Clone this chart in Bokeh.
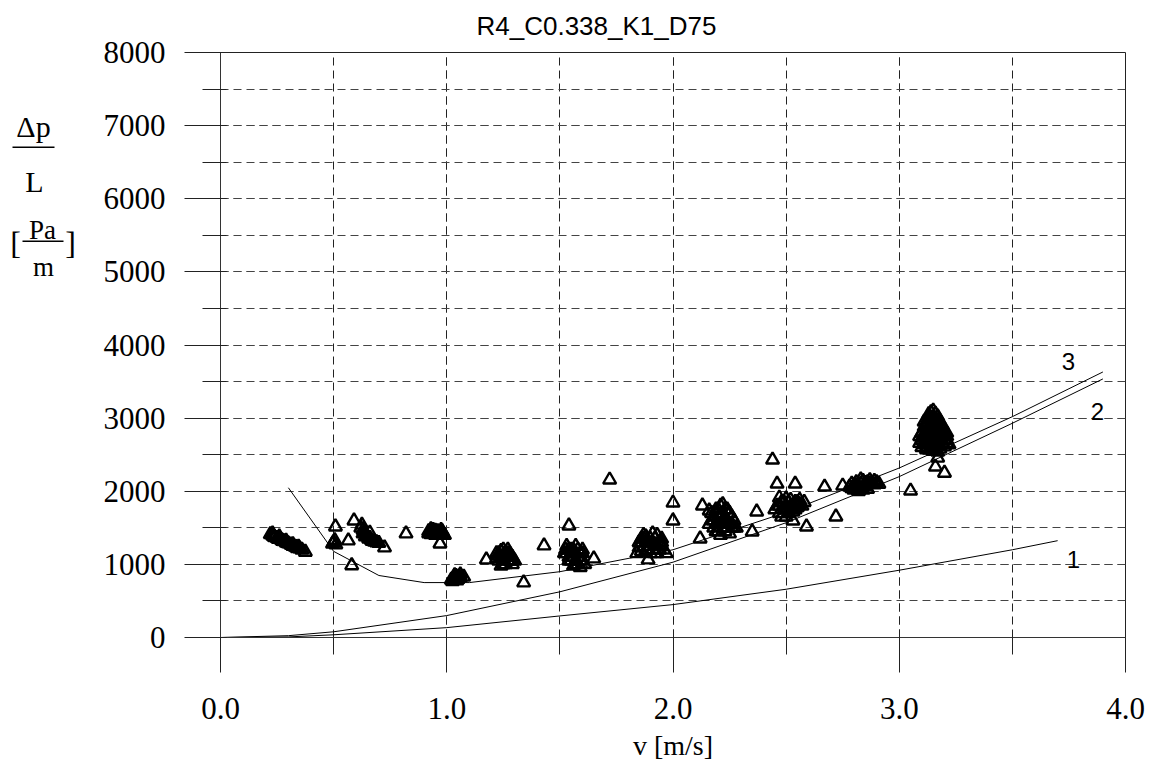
from bokeh.plotting import figure
from bokeh.layouts import row
from bokeh.models import SingleIntervalTicker, PrintfTickFormatter, Range1d, Label
from bokeh.core.properties import value
from bokeh.embed import file_html
from bokeh.resources import INLINE

title_text = "R4_C0.338_K1_D75"
x_label = "v [m/s]"

# measured points (v [m/s], dp/L [Pa/m]) - rows match between the two lists
v_meas = [
    0.22, 0.23, 0.235, 0.24, 0.25, 0.255, 0.26, 0.27, 0.275, 0.28, 0.29, 0.295, 0.30, 0.31, 0.315, 0.32,
    0.33, 0.335, 0.34, 0.35, 0.36, 0.375, 0.23, 0.26, 0.29, 0.32, 0.345,
    0.508, 0.50, 0.505, 0.495, 0.51, 0.565, 0.59, 0.58,
    0.62, 0.63, 0.635, 0.64, 0.645, 0.65, 0.66, 0.665, 0.67, 0.68, 0.69, 0.70, 0.63, 0.64, 0.655, 0.66, 0.725, 0.625,
    0.82,
    0.92, 0.93, 0.94, 0.95, 0.96, 0.97, 0.98, 0.93, 0.95, 0.965, 0.99, 0.94, 0.975, 0.97,
    0.92, 0.94, 0.96, 0.98, 0.95, 0.93, 0.97,
    1.02, 1.03, 1.035, 1.04, 1.05, 1.06, 1.045, 1.025, 1.075, 1.03, 1.05, 1.04, 1.06,
    1.175,
    1.22, 1.23, 1.24, 1.25, 1.26, 1.27, 1.28, 1.29, 1.25, 1.23, 1.27, 1.28, 1.26, 1.24, 1.29, 1.22, 1.30,
    1.23, 1.25, 1.27, 1.24, 1.26, 1.28, 1.25, 1.27, 1.29,
    1.34, 1.43,
    1.53, 1.54, 1.55, 1.56, 1.57, 1.58, 1.59, 1.60, 1.57, 1.55, 1.56, 1.58, 1.60, 1.54, 1.52, 1.61, 1.59, 1.54, 1.65, 1.525,
    1.53, 1.55, 1.57, 1.59, 1.56, 1.58, 1.54, 1.60, 1.57, 1.55,
    1.72,
    1.85, 1.86, 1.87, 1.88, 1.89, 1.90, 1.91, 1.92, 1.93, 1.94, 1.95, 1.96, 1.88, 1.90, 1.93, 1.87, 1.86, 1.89, 1.84, 1.91, 1.95, 1.97,
    1.86, 1.88, 1.90, 1.92, 1.94, 1.89, 1.91, 1.93, 1.87, 1.95, 1.92, 1.85,
    2.00, 2.00, 2.12, 2.13, 2.16,
    2.17, 2.18, 2.19, 2.20, 2.21, 2.22, 2.23, 2.24, 2.25, 2.26, 2.20, 2.22, 2.18, 2.24, 2.26, 2.27, 2.19, 2.21, 2.23, 2.25, 2.28, 2.16, 2.20, 2.22,
    2.17, 2.19, 2.21, 2.23, 2.25, 2.27, 2.20, 2.22, 2.24, 2.18, 2.26, 2.23, 2.21, 2.19,
    2.35, 2.37, 2.44, 2.46, 2.54, 2.47,
    2.46, 2.48, 2.50, 2.52, 2.54, 2.56, 2.58, 2.49, 2.51, 2.53, 2.55, 2.47, 2.50, 2.52, 2.57, 2.45,
    2.47, 2.49, 2.51, 2.53, 2.55, 2.50, 2.52, 2.54, 2.56, 2.48,
    2.53, 2.59, 2.67, 2.72, 2.75,
    2.78, 2.79, 2.80, 2.81, 2.82, 2.83, 2.84, 2.85, 2.86, 2.87, 2.88, 2.89, 2.90, 2.91, 2.84, 2.82, 2.86, 2.80,
    2.79, 2.81, 2.83, 2.85, 2.87, 2.89, 2.81, 2.83,
    3.14, 3.16, 3.13, 3.15, 3.17, 3.12, 3.14, 3.16, 3.18, 3.11, 3.13, 3.15, 3.17, 3.19, 3.10, 3.12, 3.14, 3.16,
    3.18, 3.20, 3.10, 3.12, 3.14, 3.16, 3.18, 3.20, 3.09, 3.11, 3.13, 3.15, 3.17, 3.19, 3.21, 3.10, 3.12, 3.14,
    3.16, 3.18, 3.20, 3.22, 3.15, 3.17,
    3.11, 3.13, 3.15, 3.17, 3.19, 3.21, 3.09, 3.11, 3.13, 3.15, 3.17, 3.19, 3.21, 3.10, 3.12, 3.14, 3.16, 3.18,
    3.20, 3.11, 3.13, 3.15, 3.17, 3.19, 3.21, 3.12, 3.14, 3.16, 3.18, 3.13, 3.15, 3.17, 3.14, 3.16, 3.12, 3.18,
    3.16, 3.20, 3.17, 3.05,
]
dp_meas = [
    1410, 1395, 1380, 1370, 1360, 1345, 1350, 1330, 1320, 1315, 1300, 1290, 1285, 1270, 1265, 1250,
    1240, 1235, 1220, 1215, 1200, 1170, 1420, 1380, 1320, 1275, 1240,
    1515, 1300, 1330, 1280, 1270, 1325, 1597, 985,
    1500, 1470, 1440, 1420, 1400, 1380, 1360, 1340, 1320, 1310, 1300, 1290, 1420, 1380, 1350, 1430, 1229, 1540,
    1420,
    1420, 1450, 1470, 1460, 1450, 1440, 1420, 1410, 1400, 1410, 1400, 1430, 1470, 1283,
    1450, 1450, 1420, 1450, 1430, 1480, 1400,
    790, 820, 850, 800, 830, 860, 780, 770, 830, 800, 800, 840, 820,
    1065,
    1150, 1120, 1180, 1200, 1150, 1100, 1050, 1000, 1060, 1050, 1200, 1140, 1000, 980, 1100, 1080, 1050,
    1150, 1120, 1050, 1100, 1100, 1100, 1000, 1150, 1050,
    751, 1256,
    1250, 1200, 1150, 1100, 1050, 1000, 1150, 1200, 1250, 1050, 980, 1100, 1050, 1100, 1150, 1000, 960, 1529, 1078, 1200,
    1150, 1200, 1150, 1050, 1200, 1200, 1050, 1150, 1000, 1100,
    2157,
    1300, 1350, 1400, 1380, 1300, 1250, 1200, 1350, 1400, 1300, 1250, 1200, 1200, 1150, 1150, 1250, 1180, 1065, 1150, 1420, 1350, 1150,
    1300, 1300, 1350, 1250, 1200, 1200, 1300, 1250, 1350, 1300, 1150, 1230,
    1843, 1597, 1351, 1802, 1734,
    1600, 1650, 1700, 1750, 1800, 1700, 1650, 1600, 1550, 1500, 1550, 1500, 1500, 1750, 1650, 1600, 1450, 1400, 1450, 1420, 1500, 1550, 1650, 1820,
    1700, 1750, 1650, 1750, 1700, 1500, 1450, 1600, 1500, 1600, 1550, 1550, 1550, 1550,
    1447, 1720, 2430, 2102, 2102, 1911,
    1800, 1850, 1900, 1880, 1850, 1880, 1850, 1750, 1700, 1720, 1780, 1700, 1650, 1800, 1800, 1750,
    1800, 1850, 1850, 1800, 1850, 1750, 1750, 1750, 1820, 1650,
    1597, 1515, 2061, 1652, 2075,
    2060, 2100, 2080, 2120, 2050, 2100, 2140, 2070, 2120, 2150, 2100, 2140, 2120, 2100, 2020, 2000, 2030, 2020,
    2040, 2070, 2040, 2110, 2100, 2090, 2030, 2160,
    3080, 3060, 3000, 3000, 3020, 2950, 2930, 2950, 2960, 2880, 2870, 2880, 2890, 2900, 2800, 2800, 2810, 2820,
    2830, 2840, 2730, 2740, 2750, 2760, 2760, 2770, 2660, 2670, 2680, 2690, 2700, 2690, 2700, 2600, 2600, 2620,
    2610, 2620, 2610, 2640, 2550, 2540,
    2950, 3050, 3100, 2960, 2850, 2800, 2750, 2780, 2780, 2790, 2800, 2780, 2750, 2700, 2700, 2710, 2720, 2720,
    2700, 2640, 2640, 2650, 2650, 2650, 2660, 2570, 2580, 2570, 2580, 2850, 2840, 2850, 2980, 2990, 2900, 2920,
    2335, 2250, 2457, 2007,
]

# model curves
v_c1 = [0.0, 0.3, 0.5, 1.0, 1.5, 2.0, 2.5, 3.0, 3.5, 3.7]
dp_c1 = [0, 8, 37, 135, 295, 450, 660, 920, 1200, 1324]
v_c2 = [0.0, 0.3, 0.5, 1.0, 1.5, 2.0, 2.5, 3.0, 3.5, 3.9]
dp_c2 = [0, 25, 78, 300, 625, 1030, 1570, 2200, 2930, 3536]
v_c3 = [0.3, 0.5, 0.7, 0.9, 1.1, 1.5, 2.0, 2.5, 3.0, 3.5, 3.9]
dp_c3 = [2048, 1178, 848, 751, 751, 900, 1200, 1711, 2318, 3020, 3631]
curve_names = ["1", "2", "3"]
curve_label_v = [3.77, 3.876, 3.748]
curve_label_dp = [1065, 3085, 3768]

SERIF = "Liberation Serif"
SANS = "Liberation Sans"
H = 763
LW = 80  # width of the y-label strip
FRAME_TOP, FRAME_BOTTOM = 52, 638

# ---------------- main chart ----------------
p = figure(width=1151 - LW, height=H, output_backend="svg", toolbar_location=None,
           x_range=Range1d(0, 4), y_range=Range1d(0, 8000),
           min_border_left=220 - LW, min_border_right=26, min_border_top=FRAME_TOP,
           min_border_bottom=H - FRAME_BOTTOM)
p.background_fill_color = "white"
p.border_fill_color = "white"
p.outline_line_color = "#222222"
p.outline_line_width = 1

p.title.text = title_text
p.title.text_font = SANS
p.title.text_font_size = "26px"
p.title.text_font_style = "normal"
p.title.text_color = "black"
p.title.align = "left"
p.title.offset = 256
p.title.vertical_align = "top"
p.title.standoff = 20

p.xaxis.ticker = SingleIntervalTicker(interval=1, num_minor_ticks=2)
p.yaxis.ticker = SingleIntervalTicker(interval=1000, num_minor_ticks=2)
p.xaxis.formatter = PrintfTickFormatter(format="%.1f")
for ax in (p.xaxis, p.yaxis):
    ax.major_label_text_font = SERIF
    ax.major_label_text_font_size = "31px"
    ax.major_label_text_color = "black"
    ax.major_tick_line_color = "#222222"
    ax.minor_tick_line_color = "#222222"
    ax.axis_line_color = "#333333"
p.xaxis.major_tick_out = 35
p.xaxis.major_tick_in = 0
p.xaxis.minor_tick_out = 17
p.xaxis.minor_tick_in = 0
p.xaxis.major_label_standoff = 25
p.xaxis.axis_label = x_label
p.xaxis.axis_label_text_font = SERIF
p.xaxis.axis_label_text_font_size = "28px"
p.xaxis.axis_label_text_font_style = "normal"
p.xaxis.axis_label_text_color = "black"
p.xaxis.axis_label_standoff = 8
p.yaxis.major_tick_out = 36
p.yaxis.major_tick_in = 6
p.yaxis.minor_tick_out = 18
p.yaxis.minor_tick_in = 6
p.yaxis.major_label_standoff = 19

p.xgrid.grid_line_color = "#222222"
p.xgrid.grid_line_dash = "8 5"
p.xgrid.minor_grid_line_color = "#222222"
p.xgrid.minor_grid_line_dash = "8 5"
p.ygrid.grid_line_color = "#444444"
p.ygrid.grid_line_dash = "8 5"
p.ygrid.minor_grid_line_color = "#444444"
p.ygrid.minor_grid_line_dash = "8 5"

for vv, dd in ((v_c1, dp_c1), (v_c2, dp_c2), (v_c3, dp_c3)):
    p.line(vv, dd, line_color="black", line_width=1)

p.scatter(v_meas, dp_meas, marker="triangle", size=13, fill_color=None,
          line_color="black", line_width=2.4)

for name, lv, ld in zip(curve_names, curve_label_v, curve_label_dp):
    p.add_layout(Label(x=lv, y=ld, text=name, text_font=SANS, text_font_size="24px",
                       text_align="center", text_baseline="middle", text_color="black"))

# ---------------- y-axis label strip ----------------
# its frame is aligned with the main frame (rows align plot frames), so the
# y range below maps data values 1:1 to page pixels
q = figure(width=LW, height=H, output_backend="svg", toolbar_location=None, title=None,
           x_range=Range1d(0, LW), y_range=Range1d(FRAME_BOTTOM, FRAME_TOP),
           x_axis_type=None, y_axis_type=None,
           min_border_left=0, min_border_right=0, min_border_top=FRAME_TOP,
           min_border_bottom=H - FRAME_BOTTOM)
q.grid.visible = False
q.outline_line_color = None
q.background_fill_color = "white"
q.border_fill_color = "white"

q.text(x=[33, 34], y=[126, 181], text=["Δp", "L"], text_font=value(SERIF), text_font_size="30px",
       text_align="center", text_baseline="alphabetic", text_color="black")
q.text(x=[42, 43], y=[230, 267], text=["Pa", "m"], text_font=value(SERIF), text_font_size="27px",
       text_align="center", text_baseline="alphabetic", text_color="black")
q.text(x=[15, 70], y=[243, 243], text=["[", "]"], text_font=value(SERIF), text_font_size="32px",
       text_align="center", text_baseline="middle", text_color="black")
q.segment(x0=[12, 22], y0=[147, 241], x1=[54, 63], y1=[147, 241], line_color="black", line_width=1.5)

open("out.html", "w").write(file_html(row(q, p), INLINE))
